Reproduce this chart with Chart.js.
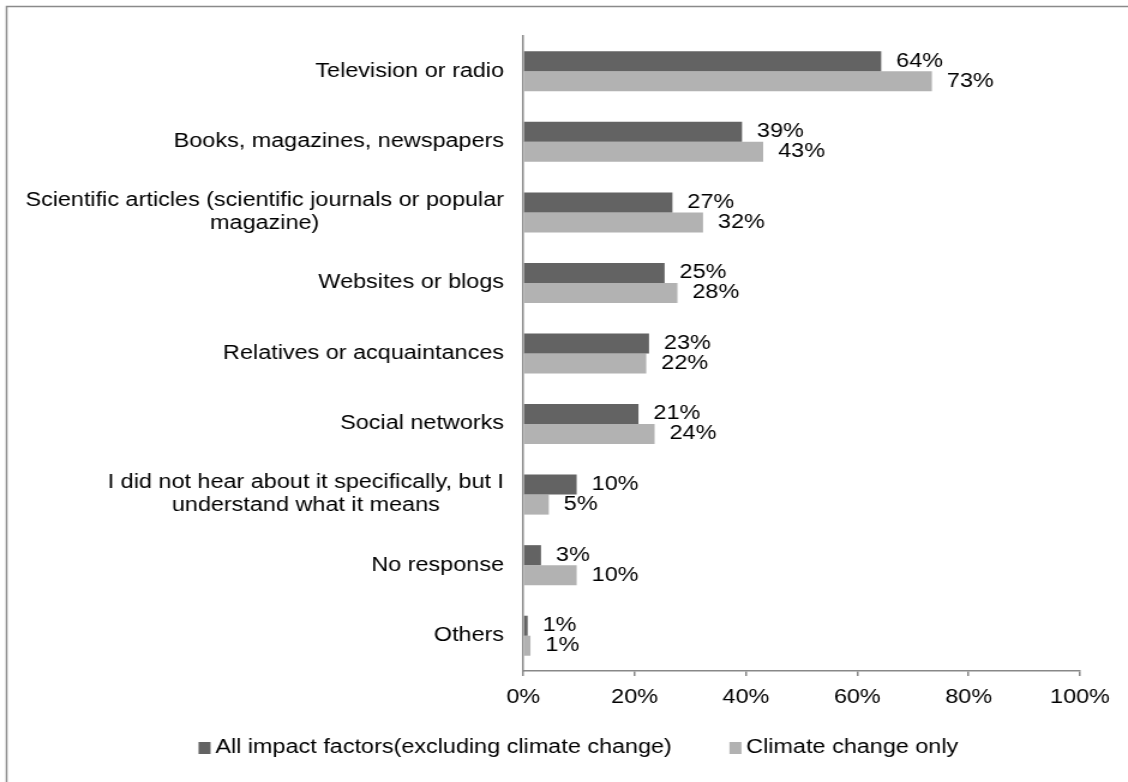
<!DOCTYPE html>
<html>
<head>
<meta charset="utf-8">
<script src="https://cdn.jsdelivr.net/npm/chart.js@4/dist/chart.umd.min.js"></script>
<style>
  body { margin: 0; background: #fff; overflow: hidden; }
  #caja { width: 940px; height: 782px; transform: scaleX(1.2); transform-origin: 0 0; }
</style>
</head>
<body>
<div id="caja">
  <canvas id="myChart" width="940" height="782"></canvas>
</div>
<script>
// categorias (cada una es una lista de lineas)
var categorias = [
  ["Television or radio"],
  ["Books, magazines, newspapers"],
  ["Scientific articles (scientific journals or popular", "magazine)"],
  ["Websites or blogs"],
  ["Relatives or acquaintances"],
  ["Social networks"],
  ["I did not hear about it specifically, but I", "understand what it means"],
  ["No response"],
  ["Others"]
];

var serie1 = "All impact factors(excluding climate change)";
var serie2 = "Climate change only";

// porcentajes de cada serie
var valores1 = [64.3, 39.3, 26.8, 25.4, 22.6, 20.7, 9.6, 3.2, 0.8];
var valores2 = [73.4, 43.1, 32.3, 27.7, 22.1, 23.6, 4.6, 9.6, 1.3];

var ticksX = [0, 20, 40, 60, 80, 100];

var colores = ["#636363", "#b2b2b2"];
var fuente = '"Liberation Sans", Arial, sans-serif';
var tam = 19.5;

// marco gris alrededor del grafico
var marco = {
  id: "marco",
  beforeDraw: function (chart) {
    var ctx = chart.ctx;
    ctx.save();
    ctx.fillStyle = "#fff";
    ctx.fillRect(0, 0, chart.width, chart.height);
    ctx.strokeStyle = "#8a8a8a";
    ctx.lineWidth = 1.5;
    ctx.strokeRect(5.5, 6.5, 2000, 2000);
    ctx.restore();
  }
};

// nombres de las categorias, centrados entre si y pegados al eje
var etiquetasY = {
  id: "etiquetasY",
  afterDraw: function (chart) {
    var ctx = chart.ctx;
    var ey = chart.scales.y;
    var borde = chart.chartArea.left - 16;
    ctx.save();
    ctx.font = tam + "px " + fuente;
    ctx.fillStyle = "#000";
    ctx.textAlign = "center";
    ctx.textBaseline = "middle";
    for (var i = 0; i < categorias.length; i++) {
      var lineas = categorias[i];
      var ancho = 0;
      for (var j = 0; j < lineas.length; j++) {
        ancho = Math.max(ancho, ctx.measureText(lineas[j]).width);
      }
      var cx = borde - ancho / 2;
      var y = ey.getPixelForValue(i);
      for (var j = 0; j < lineas.length; j++) {
        ctx.fillText(lineas[j], cx, y + (j - (lineas.length - 1) / 2) * 23);
      }
    }
    ctx.restore();
  }
};

// valor al final de cada barra
var valoresBarras = {
  id: "valoresBarras",
  afterDatasetsDraw: function (chart) {
    var ctx = chart.ctx;
    ctx.save();
    ctx.font = tam + "px " + fuente;
    ctx.fillStyle = "#000";
    ctx.textAlign = "left";
    ctx.textBaseline = "middle";
    chart.data.datasets.forEach(function (ds, d) {
      var meta = chart.getDatasetMeta(d);
      meta.data.forEach(function (barra, i) {
        ctx.fillText(Math.round(ds.data[i]) + "%", barra.x + 12.5, barra.y);
      });
    });
    ctx.restore();
  }
};

// leyenda abajo
var leyenda = {
  id: "leyenda",
  afterDraw: function (chart) {
    var ctx = chart.ctx;
    var nombres = [serie1, serie2];
    ctx.save();
    ctx.font = tam + "px " + fuente;
    ctx.textBaseline = "middle";
    ctx.textAlign = "left";
    var caja = 10, sep = 4, hueco = 48;
    var total = 0;
    for (var i = 0; i < nombres.length; i++) {
      total += caja + sep + ctx.measureText(nombres[i]).width;
    }
    total += hueco;
    var x = 482 - total / 2;
    var y = 748;
    for (var i = 0; i < nombres.length; i++) {
      ctx.fillStyle = colores[i];
      ctx.fillRect(x, y - 6, caja, 12);
      ctx.fillStyle = "#000";
      ctx.fillText(nombres[i], x + caja + sep, y);
      x += caja + sep + ctx.measureText(nombres[i]).width + hueco;
    }
    ctx.restore();
  }
};

new Chart("myChart", {
  type: "bar",
  data: {
    labels: categorias.map(function (c) { return c.join(" "); }),
    datasets: [
      { label: serie1, data: valores1, backgroundColor: colores[0], categoryPercentage: 0.567, barPercentage: 1 },
      { label: serie2, data: valores2, backgroundColor: colores[1], categoryPercentage: 0.567, barPercentage: 1 }
    ]
  },
  options: {
    indexAxis: "y",
    responsive: false,
    animation: false,
    layout: { padding: { top: 36, right: 40, left: 0, bottom: 0 } },
    plugins: {
      legend: { display: false },
      tooltip: { enabled: false }
    },
    scales: {
      x: {
        min: 0,
        max: 100,
        afterBuildTicks: function (s) {
          s.ticks = ticksX.map(function (v) { return { value: v }; });
        },
        afterFit: function (s) { s.height = 111; },
        ticks: {
          color: "#000",
          font: { family: fuente, size: tam },
          padding: 10,
          callback: function (v) { return v + "%"; }
        },
        grid: { drawOnChartArea: false, tickLength: 5, color: "#888", lineWidth: 1.5 },
        border: { color: "#888", width: 1.5 }
      },
      y: {
        afterFit: function (s) { s.width = 436; },
        ticks: { display: false },
        grid: { drawOnChartArea: false, drawTicks: false },
        border: { color: "#888", width: 1.5 }
      }
    }
  },
  plugins: [marco, etiquetasY, valoresBarras, leyenda]
});
</script>
</body>
</html>
